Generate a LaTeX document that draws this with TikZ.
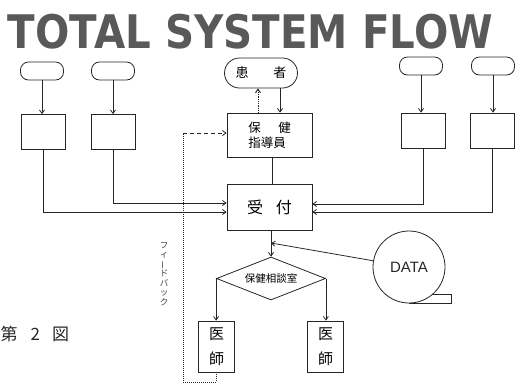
\documentclass[tikz,border=0pt]{standalone}
\usepackage{fontspec}
\usepackage{graphicx}
\setmainfont{Liberation Sans}
\newfontfamily\jp{Noto Sans CJK JP}
\newfontfamily\titlefont{DejaVu Sans}
\usetikzlibrary{arrows.meta,shapes.geometric}
\begin{document}
\begin{tikzpicture}[x=1pt,y=-1pt,
  ln/.style={draw=black!85, line width=0.8pt},
  arr/.style={ln, -{Straight Barb[length=3.5pt,width=5pt]}},
  term/.style={ln, rounded corners=8pt, minimum width=43pt, minimum height=18pt, inner sep=0pt},
  blk/.style={ln, minimum width=44pt, minimum height=35pt, inner sep=0pt},
  doc/.style={ln, minimum width=36pt, minimum height=51pt, inner sep=0pt, align=center, font={\jp\fontsize{15}{25}\selectfont}},
  fbline/.style={ln, line width=1pt, densely dotted},
]
\useasboundingbox (0,0) rectangle (515,384);
\node[inner sep=0pt, text=black!65] (title) at (250.5,32) {\resizebox*{485pt}{35pt}{\titlefont\bfseries TOTAL SYSTEM FLOW}};

\node[term] (o1) at (42,71) {};
\node[term] (o2) at (113,71) {};
\node[term] (o3) at (421,66) {};
\node[term] (o4) at (493,66) {};
\node[blk] (r1) at (43,132) {};
\node[blk] (r2) at (113,132) {};
\node[blk] (r3) at (423,130.5) {};
\node[blk] (r4) at (492,130.5) {};
\draw[arr] (o1) -- (o1 |- r1.north);
\draw[arr] (o2) -- (o2 |- r2.north);
\draw[arr] (o3) -- (o3 |- r3.north);
\draw[arr] (o4) -- (o4 |- r4.north);

\node[ln, rounded corners=15pt, minimum width=73pt, minimum height=30pt, inner sep=0pt, font={\jp\fontsize{13}{13}\selectfont}] (pat) at (261,73) {患\hspace{25pt}者};
\node[ln, minimum width=85pt, minimum height=44pt, inner sep=0pt, align=left, font={\jp\fontsize{12.5}{15}\selectfont}] (hok) at (269.5,135) {保\hspace{17.5pt}健\\指導員};
\node[ln, minimum width=85pt, minimum height=46pt, inner sep=0pt, font={\jp\fontsize{16}{16}\selectfont}] (uke) at (269.5,207) {受\hspace{13pt}付};

\draw[arr] (pat.south -| 280,0) -- (hok.north -| 280,0);
\draw[arr, densely dotted, line width=1pt] (hok.north -| 258,0) -- (pat.south -| 258,0);
\draw[ln] (hok.south -| 272,0) -- (uke.north -| 272,0);

\draw[arr] (r1.south) |- (uke.west |- 0,212);
\draw[arr] (r2.south) |- (uke.west |- 0,203);
\draw[arr] (r3.south) |- (uke.east |- 0,204);
\draw[arr] (r4.south) |- (uke.east |- 0,212);

\node[ln, diamond, aspect=2.5, minimum width=109pt, minimum height=43pt, inner sep=0pt, font={\jp\fontsize{10.5}{10.5}\selectfont}] (dia) at (271,278.5) {保健相談室};
\draw[arr] (uke.south -| dia.north) -- (dia.north);
\coordinate (j) at (271,243);

\node[ln, circle, minimum size=72pt, inner sep=0pt, font={\fontsize{15}{15}\selectfont}, text=black!85] (data) at (409,267) {DATA};
\draw[ln] (data.south) -- ++(42,0) -- ++(0,-9) -- ++(-18,0);
\draw[arr] (data) -- (j);

\node[doc] (d1) at (216.5,346.5) {医\\師};
\node[doc] (d2) at (325.5,346.5) {医\\師};
\draw[arr] (dia.west) -- (dia.west |- d1.north);
\draw[arr] (dia.east) -- (dia.east |- d2.north);

\coordinate (fbtop) at (183,133);
\coordinate (fbbot) at (183,382);
\draw[fbline] (d1.south) -- (d1.south |- fbbot) -- (fbbot) -- (fbtop);
\draw[arr, dash pattern=on 4pt off 3pt] (fbtop) -- (fbtop -| hok.west);

\node[inner sep=0pt, align=center, text=black!75, font={\jp\fontsize{8.5}{9.5}\selectfont}] (fb) at (164,274) {フ\\ィ\\\rotatebox[origin=c]{90}{ー}\\ド\\バ\\ッ\\ク};

\node[anchor=west, inner sep=0pt, text=black!85, font={\jp\fontsize{17}{17}\selectfont}] (fig) at (0.5,334) {第\hspace{13pt}2\hspace{12pt}図};
\end{tikzpicture}
\end{document}
